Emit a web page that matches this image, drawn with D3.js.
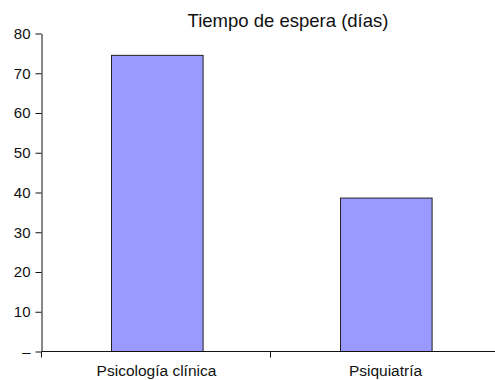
<!DOCTYPE html>
<html>
<head>
<meta charset="utf-8">
<script src="https://cdn.jsdelivr.net/npm/d3@7"></script>
<style>
  body { margin: 0; background: #fff; }
  svg text { font-family: "Liberation Sans", Arial, sans-serif; fill: #111; }
</style>
</head>
<body>
<div id="chart"></div>
<script>
// data
let categories = ["Psicología clínica", "Psiquiatría"];
let values = [74.5, 38.6];
let yTicks = [0, 10, 20, 30, 40, 50, 60, 70, 80];
let yTickLabels = ["–", "10", "20", "30", "40", "50", "60", "70", "80"];
let title = "Tiempo de espera (días)";

let width = 495,
    height = 380;

let svg = d3.select("#chart")
    .append("svg")
    .attr("width", width)
    .attr("height", height);

// scales
let x = d3.scaleBand()
    .domain(categories)
    .range([42, 500])
    .paddingInner(0)
    .paddingOuter(0);

let y = d3.scaleLinear()
    .domain([0, 80])
    .range([351.5, 33.5]);

// bars
svg.append("g")
    .selectAll("rect")
    .data(values)
    .enter()
    .append("rect")
    .attr("x", (d, i) => Math.round(x(categories[i]) + x.bandwidth() * 0.3) + 0.5)
    .attr("y", d => y(d))
    .attr("width", x.bandwidth() * 0.4)
    .attr("height", d => y(0) - y(d))
    .style("fill", "#9999ff")
    .attr("stroke", "#222")
    .attr("stroke-width", 1);

// Y axis
let yAxis = svg.append("g")
    .attr("transform", "translate(41.5,0)")
    .call(d3.axisLeft(y)
        .tickValues(yTicks)
        .tickFormat((d, i) => yTickLabels[i])
        .tickSize(6)
        .tickPadding(5)
        .tickSizeOuter(0));
yAxis.selectAll("text").style("font-size", "15px");
yAxis.selectAll("line, path").attr("stroke", "#111");

// X axis: ticks on band edges
let xAxis = svg.append("g")
    .attr("transform", "translate(0," + y(0) + ")");
xAxis.append("line")
    .attr("x1", x.range()[0])
    .attr("x2", x.range()[1])
    .attr("stroke", "#111");
let edges = categories.map(c => x(c));
xAxis.selectAll(".edge")
    .data(edges)
    .enter()
    .append("line")
    .attr("class", "edge")
    .attr("x1", d => Math.round(d) - 0.5)
    .attr("x2", d => Math.round(d) - 0.5)
    .attr("y1", 0)
    .attr("y2", 6)
    .attr("stroke", "#111");
xAxis.selectAll(".lbl")
    .data(categories)
    .enter()
    .append("text")
    .attr("class", "lbl")
    .attr("x", d => x(d) + x.bandwidth() / 2)
    .attr("y", 24.5)
    .attr("text-anchor", "middle")
    .style("font-size", "15.5px")
    .text(d => d);

// title
svg.append("text")
    .attr("x", 288)
    .attr("y", 27)
    .attr("text-anchor", "middle")
    .style("font-size", "18.5px")
    .text(title);
</script>
</body>
</html>
